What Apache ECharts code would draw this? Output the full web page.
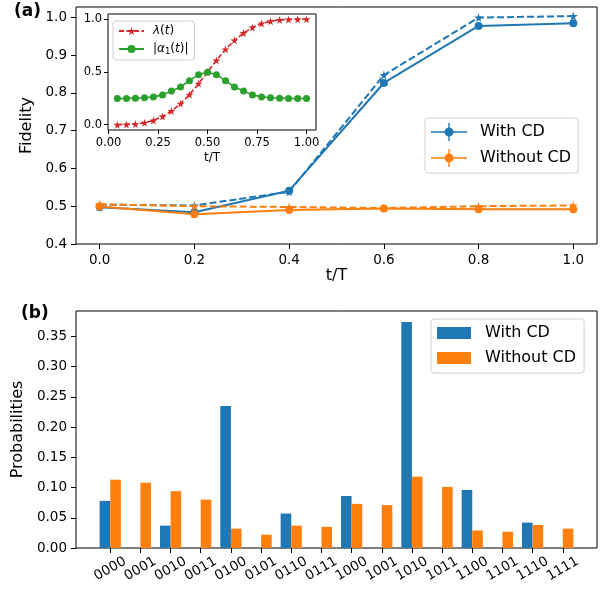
<!DOCTYPE html>
<html>
<head>
<meta charset="utf-8">
<script src="https://cdn.jsdelivr.net/npm/echarts@6/dist/echarts.min.js"></script>
<style>html,body{margin:0;padding:0;background:#fff}#chart{width:610px;height:591px}</style>
</head>
<body>
<div id="chart"></div>
<script>
// (a) fidelity vs t/T
var tSteps = [0.0, 0.2, 0.4, 0.6, 0.8, 1.0];
var fidWithCD = [0.497, 0.484, 0.541, 0.826, 0.977, 0.984];
var fidWithCDIdeal = [0.504, 0.502, 0.538, 0.847, 0.999, 1.003];
var fidWithoutCD = [0.499, 0.479, 0.490, 0.494, 0.492, 0.492];
var fidWithoutCDIdeal = [0.505, 0.500, 0.498, 0.495, 0.500, 0.502];
var fidTicksX = [0, 0.2, 0.4, 0.6, 0.8, 1.0];
var fidTicksY = [0.4, 0.5, 0.6, 0.7, 0.8, 0.9, 1.0];

// inset
var tInset = [0.045, 0.091, 0.136, 0.182, 0.227, 0.273, 0.318, 0.364, 0.409, 0.455, 0.5,
  0.545, 0.591, 0.636, 0.682, 0.727, 0.773, 0.818, 0.864, 0.909, 0.955, 1.0];
var lambdaT = [0.0, 0.002, 0.006, 0.019, 0.04, 0.078, 0.13, 0.2, 0.285, 0.39, 0.5,
  0.61, 0.715, 0.8, 0.87, 0.922, 0.96, 0.981, 0.994, 0.998, 1.0, 1.0];
var alpha1 = [0.248, 0.248, 0.252, 0.256, 0.264, 0.283, 0.32, 0.358, 0.418, 0.475, 0.497,
  0.475, 0.418, 0.358, 0.32, 0.283, 0.264, 0.256, 0.252, 0.248, 0.248, 0.248];
var insetTicksX = [0, 0.25, 0.5, 0.75, 1.0];
var insetTicksY = [0, 0.5, 1.0];

// (b) probabilities
var states = ['0000','0001','0010','0011','0100','0101','0110','0111',
  '1000','1001','1010','1011','1100','1101','1110','1111'];
var probWithCD = [0.078, 0, 0.037, 0, 0.235, 0, 0.057, 0, 0.086, 0, 0.374, 0, 0.096, 0, 0.042, 0];
var probWithoutCD = [0.113, 0.108, 0.094, 0.080, 0.032, 0.022, 0.037, 0.035, 0.073, 0.071, 0.118, 0.101, 0.029, 0.027, 0.038, 0.032];
var probTicksY = [0, 0.05, 0.1, 0.15, 0.2, 0.25, 0.3, 0.35];

var BLUE = '#1f77b4', ORANGE = '#ff7f0e', RED = '#d62728', GREEN = '#2ca02c';
var FONT = 'DejaVu Sans';
var STAR = 'path://M50,0 L61,35 L98,35 L68,57 L79,91 L50,70 L21,91 L32,57 L2,35 L39,35 Z';
// line + error bar + dot, all drawn clockwise so nothing cancels out
var ERRICON = 'path://M0,8.3 L36,8.3 L36,9.7 L0,9.7 Z M17.3,0 L18.7,0 L18.7,18 L17.3,18 Z M13.5,9 A4.5,4.5 0 1,1 22.5,9 A4.5,4.5 0 1,1 13.5,9 Z';

function pairs(xs, ys) { return xs.map(function (x, i) { return [x, ys[i]]; }); }
var stateIdx = states.map(function (s, i) { return i; });

var chart = echarts.init(document.getElementById('chart'));

function valAxis(o) {
  return Object.assign({
    type: 'value',
    splitLine: {show: false},
    axisLine: {show: false, onZero: false},
    nameTextStyle: {color: '#000', fontFamily: FONT, fontSize: 16}
  }, o);
}
function ticks(vals, len) {
  return {show: true, length: len || 5, lineStyle: {color: '#000'}, customValues: vals};
}
function labels(vals, extra) {
  return Object.assign({color: '#000', fontFamily: FONT, fontSize: 13.5, margin: 9, customValues: vals}, extra);
}

var option = {
  animation: false,
  title: [
    {text: '(a)', left: 14, top: 3, padding: 0, textStyle: {fontFamily: FONT, fontSize: 17, fontWeight: 'bold', color: '#000'}},
    {text: '(b)', left: 21, top: 305, padding: 0, textStyle: {fontFamily: FONT, fontSize: 17, fontWeight: 'bold', color: '#000'}}
  ],
  grid: [
    {left: 76, top: 7, right: 13, bottom: 347, show: true, borderColor: '#000', borderWidth: 1, backgroundColor: '#fff'},
    {left: 76, top: 311, right: 13, bottom: 43, show: true, borderColor: '#000', borderWidth: 1, backgroundColor: '#fff'},
    {left: 108, top: 14, width: 208, height: 116, show: true, borderColor: '#000', borderWidth: 1, backgroundColor: '#fff', z: 5}
  ],
  xAxis: [
    valAxis({gridIndex: 0, min: -0.05, max: 1.05, name: 't/T', nameLocation: 'middle', nameGap: 24,
      axisTick: ticks(fidTicksX),
      axisLabel: labels(fidTicksX, {formatter: function (v) { return v.toFixed(1); }})}),
    valAxis({gridIndex: 1, min: -1.135, max: 16.135,
      axisTick: ticks(stateIdx),
      axisLabel: labels(stateIdx, {margin: 21, rotate: 30, align: 'center', verticalAlign: 'middle',
        formatter: function (v) { return states[Math.round(v)]; }})}),
    valAxis({gridIndex: 2, min: -0.0023, max: 1.0477, name: 't/T', nameLocation: 'middle', nameGap: 22, z: 6,
      nameTextStyle: {color: '#000', fontFamily: FONT, fontSize: 12},
      axisTick: ticks(insetTicksX, 4),
      axisLabel: labels(insetTicksX, {fontSize: 11.5, margin: 7, formatter: function (v) { return v.toFixed(2); }})})
  ],
  yAxis: [
    valAxis({gridIndex: 0, min: 0.4, max: 1.027, name: 'Fidelity', nameLocation: 'middle', nameGap: 38,
      axisTick: ticks(fidTicksY),
      axisLabel: labels(fidTicksY, {formatter: function (v) { return v.toFixed(1); }})}),
    valAxis({gridIndex: 1, min: 0, max: 0.392, name: 'Probabilities', nameLocation: 'middle', nameGap: 46,
      axisTick: ticks(probTicksY),
      axisLabel: labels(probTicksY, {formatter: function (v) { return v.toFixed(2); }})}),
    valAxis({gridIndex: 2, min: -0.05, max: 1.05, z: 6,
      axisTick: ticks(insetTicksY, 4),
      axisLabel: labels(insetTicksY, {fontSize: 11.5, margin: 6, formatter: function (v) { return v.toFixed(1); }})})
  ],
  legend: [
    {orient: 'vertical', left: 425, top: 118, padding: [5, 7, 6, 6], itemWidth: 36, itemHeight: 18, itemGap: 8,
      backgroundColor: '#fff', borderColor: '#d0d0d0', borderWidth: 1, borderRadius: 3,
      itemStyle: {borderWidth: 0},
      textStyle: {fontFamily: FONT, fontSize: 16, color: '#000', lineHeight: 18, padding: [0, 0, 0, 8]},
      data: [
        {name: 'With CD', icon: ERRICON, itemStyle: {color: BLUE, borderWidth: 0}},
        {name: 'Without CD', icon: ERRICON, itemStyle: {color: ORANGE, borderWidth: 0}}
      ]},
    {orient: 'vertical', left: 431, top: 319, padding: [6, 8, 7, 6], itemWidth: 34, itemHeight: 12, itemGap: 9,
      backgroundColor: '#fff', borderColor: '#d0d0d0', borderWidth: 1, borderRadius: 3,
      textStyle: {fontFamily: FONT, fontSize: 16, color: '#000', lineHeight: 16, padding: [0, 0, 0, 9]},
      data: [{name: 'With CD ', icon: 'rect'}, {name: 'Without CD ', icon: 'rect'}],
      formatter: function (n) { return n.trim(); }},
    {orient: 'vertical', left: 113, top: 21, padding: [3, 6, 4, 5], itemWidth: 25, itemHeight: 10, itemGap: 4, z: 10,
      backgroundColor: '#fff', borderColor: '#d0d0d0', borderWidth: 1, borderRadius: 3,
      textStyle: {fontFamily: FONT, fontSize: 12, color: '#000', lineHeight: 14, padding: [0, 0, 0, 4],
        rich: {it: {fontFamily: FONT, fontSize: 12, fontStyle: 'italic', color: '#000'},
               sub: {fontFamily: FONT, fontSize: 8.5, color: '#000', verticalAlign: 'bottom', padding: [5, 0, 0, 0]}}},
      data: ['lambda', 'alpha'],
      formatter: function (n) { return n === 'lambda' ? '{it|λ}({it|t})' : '|{it|α}{sub|1}({it|t})|'; }}
  ],
  series: [
    {name: 'With CD', type: 'line', xAxisIndex: 0, yAxisIndex: 0, data: pairs(tSteps, fidWithCD),
      symbol: 'circle', symbolSize: 8, color: BLUE, lineStyle: {width: 2}},
    {name: 'With CD ideal', type: 'line', xAxisIndex: 0, yAxisIndex: 0, data: pairs(tSteps, fidWithCDIdeal),
      symbol: STAR, symbolSize: 9, color: BLUE, lineStyle: {width: 2, type: [7, 3]}},
    {name: 'Without CD', type: 'line', xAxisIndex: 0, yAxisIndex: 0, data: pairs(tSteps, fidWithoutCD),
      symbol: 'circle', symbolSize: 8, color: ORANGE, lineStyle: {width: 2}},
    {name: 'Without CD ideal', type: 'line', xAxisIndex: 0, yAxisIndex: 0, data: pairs(tSteps, fidWithoutCDIdeal),
      symbol: STAR, symbolSize: 9, color: ORANGE, lineStyle: {width: 2, type: [7, 3]}},
    {name: 'With CD ', type: 'bar', xAxisIndex: 1, yAxisIndex: 1, data: pairs(stateIdx, probWithCD),
      barWidth: 10.6, barGap: '0%', color: BLUE},
    {name: 'Without CD ', type: 'bar', xAxisIndex: 1, yAxisIndex: 1, data: pairs(stateIdx, probWithoutCD),
      barWidth: 10.6, barGap: '0%', color: ORANGE},
    {name: 'lambda', type: 'line', xAxisIndex: 2, yAxisIndex: 2, data: pairs(tInset, lambdaT), z: 8,
      symbol: STAR, symbolSize: 8, color: RED, lineStyle: {width: 1.6, type: [5, 2.5]}},
    {name: 'alpha', type: 'line', xAxisIndex: 2, yAxisIndex: 2, data: pairs(tInset, alpha1), z: 8,
      symbol: 'circle', symbolSize: 7, color: GREEN, lineStyle: {width: 1.6}}
  ]
};
chart.setOption(option);
</script>
</body>
</html>
